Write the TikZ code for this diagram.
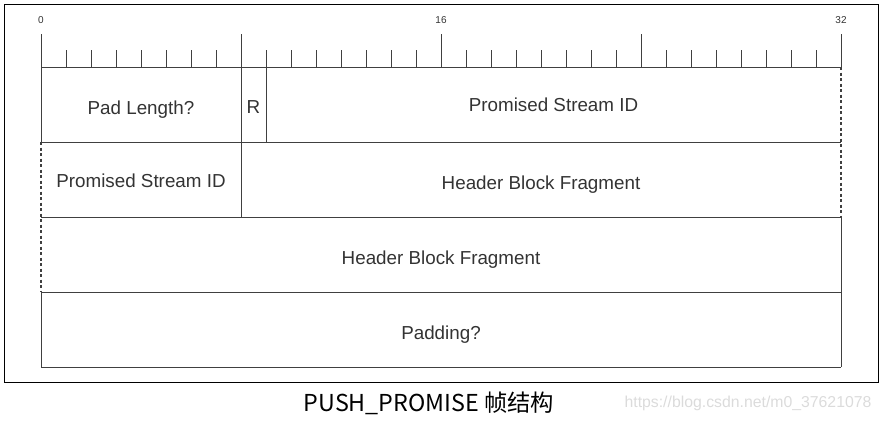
\documentclass[tikz,border=0pt]{standalone}
\usepackage{fontspec}
\setmainfont{Liberation Sans}
\newfontfamily\cjk{Noto Sans CJK SC}
\usetikzlibrary{positioning}
\definecolor{linegray}{HTML}{404040}
\definecolor{textgray}{HTML}{333333}
\tikzset{field/.style = {text=textgray, font=\fontsize{18.8}{22}\selectfont},
         bitnum/.style = {text=textgray, font=\fontsize{10}{11}\selectfont},
         rule/.style = {draw=linegray, line width=1pt},
         gap/.style = {rule, line width=1.2pt, dash pattern=on 3pt off 2.5pt}}

\begin{document}
\begin{tikzpicture}[x=25pt, y=-25pt]
    \useasboundingbox (-1.64,-2.68) rectangle (33.64,14.16);
    \draw[line width=0.9pt] (-1.48,-2.52) rectangle (33.48,12.6);
    % ruler
    \foreach \b in {1,...,31} \draw[rule] (\b,0) -- (\b,-0.68);
    \foreach \b in {0,8,16,24,32} \draw[rule] (\b,0) -- (\b,-1.32);
    \node[bitnum] (b0) at (0,-1.88) {0};
    \node[bitnum] (b16) at (16,-1.88) {16};
    \node[bitnum] (b32) at (32,-1.88) {32};
    % rows
    \foreach \r in {0,3,6,9,12} \draw[rule] (0,\r) -- (32,\r);
    \draw[rule] (0,0) -- (0,3) (0,9) -- (0,12) (32,6) -- (32,12)
                (8,0) -- (8,6) (9,0) -- (9,3);
    \draw[gap] (0,3) -- (0,9) (32,0) -- (32,6);
    % fields
    \node[field] (padlen) at (4,1.7) {Pad Length?};
    \node[field] (rbit) at (8.5,1.6) {R};
    \node[field] (psid) at (20.5,1.5) {Promised Stream ID};
    \node[field] (psidrest) at (4,4.54) {Promised Stream ID};
    \node[field] (hbf) at (20,4.72) {Header Block Fragment};
    \node[field] (hbfrest) at (16,7.72) {Header Block Fragment};
    \node[field] (padding) at (16,10.72) {Padding?};
    % caption
    \node[font=\cjk\fontsize{23.3}{26}\selectfont] (caption) at (15.52,13.44) {PUSH\_PROMISE 帧结构};
    \node[text=black!14, font=\fontsize{15.8}{18}\selectfont] (mark) at (28.28,13.44) {https://blog.csdn.net/m0\_37621078};
\end{tikzpicture}
\end{document}
